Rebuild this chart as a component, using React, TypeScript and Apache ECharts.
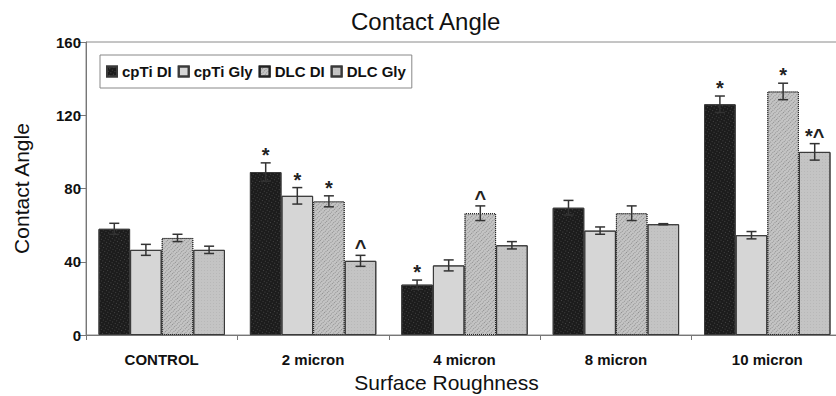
import React, { useEffect, useRef } from "react";
import * as echarts from "echarts";

const categories = ["CONTROL", "2 micron", "4 micron", "8 micron", "10 micron"];
const seriesNames = ["cpTi DI", "cpTi Gly", "DLC DI", "DLC Gly"];

const cpTiDI = [58, 89, 27.5, 69.5, 126];
const cpTiDIErr = [3, 5, 2.5, 4, 4.5];
const cpTiDIMark = ["", "*", "*", "", "*"];

const cpTiGly = [46.5, 76, 38, 57, 54.5];
const cpTiGlyErr = [3, 4.5, 3, 2, 2];
const cpTiGlyMark = ["", "*", "", "", ""];

const dlcDI = [53, 73, 66.5, 66.5, 133];
const dlcDIErr = [2, 3, 4, 4, 4.5];
const dlcDIMark = ["", "*", "^", "", "*"];

const dlcGly = [46.5, 40.5, 49, 60.5, 100];
const dlcGlyErr = [2, 3, 2, 0.3, 4.5];
const dlcGlyMark = ["", "^", "", "", "*^"];

const yTicks = [0, 40, 80, 120, 160];

const FONT = "'Liberation Sans', Arial, sans-serif";
const GAP = 0.165;

export default function App() {
  const ref = useRef<HTMLDivElement>(null);
  useEffect(() => {
    if (!ref.current) return;
    const chart = echarts.init(ref.current, null, { renderer: "svg" });
    const values = [cpTiDI, cpTiGly, dlcDI, dlcGly];
    const errs = [cpTiDIErr, cpTiGlyErr, dlcDIErr, dlcGlyErr];
    const marks = [cpTiDIMark, cpTiGlyMark, dlcDIMark, dlcGlyMark];
    const errData: any[] = [];
    const errMarks: string[] = [];
    values.forEach((arr, si) => {
      arr.forEach((v, ci) => {
        errData.push([ci, si, v, errs[si][ci]]);
        errMarks.push(marks[si][ci]);
      });
    });
    const fills = ["#1c1c1c", "#d6d6d6", "#c4c4c4", "#c4c4c4"];
    const decals = [
      { symbol: "rect", symbolSize: 1, color: "rgba(255,255,255,0.18)", dashArrayX: [1, 2], dashArrayY: [1, 2] },
      { symbol: "rect", symbolSize: 1, color: "rgba(0,0,0,0)", dashArrayX: [1, 0], dashArrayY: [1, 0] },
      { symbol: "rect", symbolSize: 1, color: "rgba(0,0,0,0.28)", dashArrayX: [1, 1], dashArrayY: [1, 2] },
      { symbol: "rect", symbolSize: 1, color: "rgba(0,0,0,0.06)", dashArrayX: [1, 2], dashArrayY: [1, 2] },
    ];
    const barSeries = seriesNames.map((name, si) => ({
      name,
      type: "bar",
      data: values[si],
      barGap: "0%",
      barCategoryGap: GAP * 100 + "%",
      itemStyle: {
        color: fills[si],
        borderColor: si === 2 ? "#222" : "#3a3a3a",
        borderType: si === 2 ? "dotted" : "solid",
        borderWidth: 1,
        decal: decals[si],
      },
    }));
    chart.setOption({
      animation: false,
      aria: { enabled: true, label: { enabled: false }, decal: { show: true } },
      title: {
        text: "Contact Angle",
        left: 346,
        top: 4,
        textStyle: { fontFamily: FONT, fontSize: 24, fontWeight: "normal", color: "#111" },
      },
      legend: {
        data: seriesNames,
        left: 100,
        top: 55,
        orient: "horizontal",
        icon: "rect",
        padding: [9, 6, 9, 6],
        itemWidth: 10,
        itemHeight: 10,
        itemGap: 6,
        borderColor: "#888",
        borderWidth: 1,
        backgroundColor: "#fff",
        textStyle: { fontFamily: FONT, fontSize: 15, fontWeight: "bold", color: "#111" },
      },
      grid: {
        left: 86,
        top: 42,
        width: 757,
        bottom: 61,
        outerBoundsMode: "none",
        containLabel: false,
        show: true,
        borderColor: "#8a8a8a",
        borderWidth: 1,
        backgroundColor: "transparent",
      },
      xAxis: {
        type: "category",
        data: categories,
        name: "Surface Roughness",
        nameLocation: "middle",
        nameGap: 36,
        nameTextStyle: { fontFamily: FONT, fontSize: 21, color: "#111", padding: [0, 36, 0, 0] },
        axisLine: { lineStyle: { color: "#777", width: 1 } },
        axisTick: { show: true, length: 5, lineStyle: { color: "#777" } },
        axisLabel: { fontFamily: FONT, fontSize: 15, fontWeight: "bold", color: "#111", margin: 17 },
      },
      yAxis: {
        type: "value",
        min: 0,
        max: 160,
        interval: 40,
        name: "Contact Angle",
        nameLocation: "middle",
        nameGap: 54,
        nameTextStyle: { fontFamily: FONT, fontSize: 21, color: "#111" },
        axisLine: { show: true, lineStyle: { color: "#777", width: 1 } },
        axisTick: { show: true, length: 8, lineStyle: { color: "#777" } },
        splitLine: { show: false },
        axisLabel: {
          fontFamily: FONT,
          fontSize: 15,
          fontWeight: "bold",
          color: "#111",
          margin: 5,
          formatter: (v: number) => (yTicks.includes(v) ? String(v) : ""),
        },
      },
      series: [
        ...barSeries,
        {
          type: "custom",
          name: "err",
          data: errData,
          z: 10,
          clip: false,
          encode: { x: 0, y: 2 },
          itemStyle: { decal: decals[1] },
          renderItem: (params: any, api: any) => {
            const ci = api.value(0);
            const si = api.value(1);
            const v = api.value(2);
            const e = api.value(3);
            const band = api.size([1, 0])[0];
            const bw = (band * (1 - GAP)) / 4;
            const cx = api.coord([ci, 0])[0] + (si - 1.5) * bw;
            const top = api.coord([ci, v + e])[1];
            const bot = api.coord([ci, v - e])[1];
            const cap = 5;
            const st = { stroke: "#333", lineWidth: 1.5 };
            const children: any[] = [
              { type: "line", shape: { x1: cx, y1: top, x2: cx, y2: bot }, style: st },
              { type: "line", shape: { x1: cx - cap, y1: top, x2: cx + cap, y2: top }, style: st },
              { type: "line", shape: { x1: cx - cap, y1: bot, x2: cx + cap, y2: bot }, style: st },
            ];
            const m = errMarks[params.dataIndex];
            if (m) {
              children.push({
                type: "text",
                x: cx,
                y: top + 2,
                style: {
                  text: m,
                  fontFamily: FONT,
                  fontSize: 20,
                  fontWeight: "bold",
                  fill: "#222",
                  align: "center",
                  verticalAlign: "bottom",
                },
              });
            }
            return { type: "group", children };
          },
        },
      ],
    });
    return () => chart.dispose();
  }, []);
  return <div ref={ref} style={{ width: 836, height: 396, position: "absolute", left: 0, top: 0 }} />;
}
